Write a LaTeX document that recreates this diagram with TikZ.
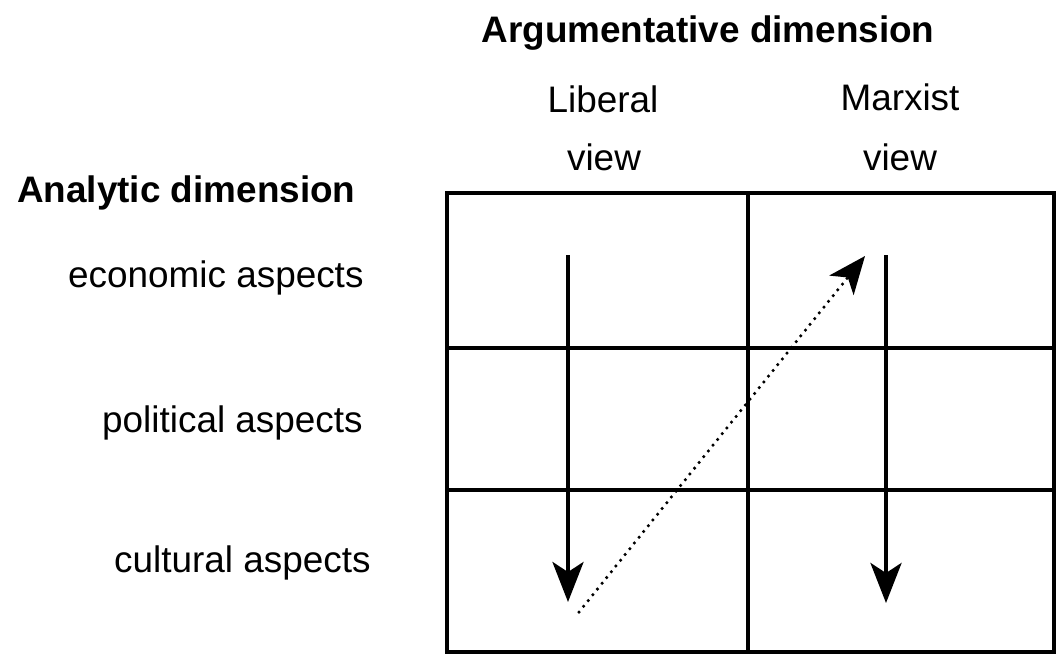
\documentclass[tikz,border=0pt]{standalone}
\usepackage{fontspec}
\setmainfont{Liberation Sans}
\usetikzlibrary{arrows.meta,positioning}

\begin{document}
\begin{tikzpicture}[
  x=0.02cm, y=-0.02cm,
  font=\fontsize{21}{25}\selectfont,
  grid/.style={draw=black, line width=1.8pt},
  head/.style={anchor=base, font=\fontsize{21}{25}\selectfont\bfseries},
  lab/.style={anchor=base},
  aspect/.style={anchor=base west},
  flow/.style={line width=2.4pt, -{Stealth[length=0.8cm, width=0.62cm, inset=0.2cm]}},
  link/.style={line width=2pt, line cap=round, dash pattern=on 0pt off 4.2pt,
    -{Stealth[length=0.75cm, width=0.62cm, inset=0.2cm]}}
]
\useasboundingbox (0,0) rectangle (1057,654);

\node[head] (argdim) at (708,42) {Argumentative dimension};
\node[lab] (liberal) at (603,112) {Liberal};
\node[lab] (liberalview) at (604,170) {view};
\node[lab] (marxist) at (900,110) {Marxist};
\node[lab] (marxistview) at (900,170) {view};

\node[head, anchor=base west] (anadim) at (11,202) {Analytic dimension};
\node[aspect] (economic) at (62,287) {economic aspects};
\node[aspect] (political) at (96,432) {political aspects};
\node[aspect] (cultural) at (108,572) {cultural aspects};

\draw[grid] (447,193) rectangle (1054,652);
\draw[grid] (748,193) -- (748,652);
\draw[grid] (447,348) -- (1054,348);
\draw[grid] (447,490) -- (1054,490);

\coordinate (libtop) at (568,255);
\coordinate (libbot) at (568,602);
\coordinate (martop) at (886,255);
\coordinate (marbot) at (886,603);
\coordinate (linkstart) at (579,612);
\coordinate (linkend) at (865,256);

\draw[flow] (libtop) -- (libbot);
\draw[flow] (martop) -- (marbot);
\draw[link] (linkstart) -- (linkend);
\end{tikzpicture}
\end{document}
